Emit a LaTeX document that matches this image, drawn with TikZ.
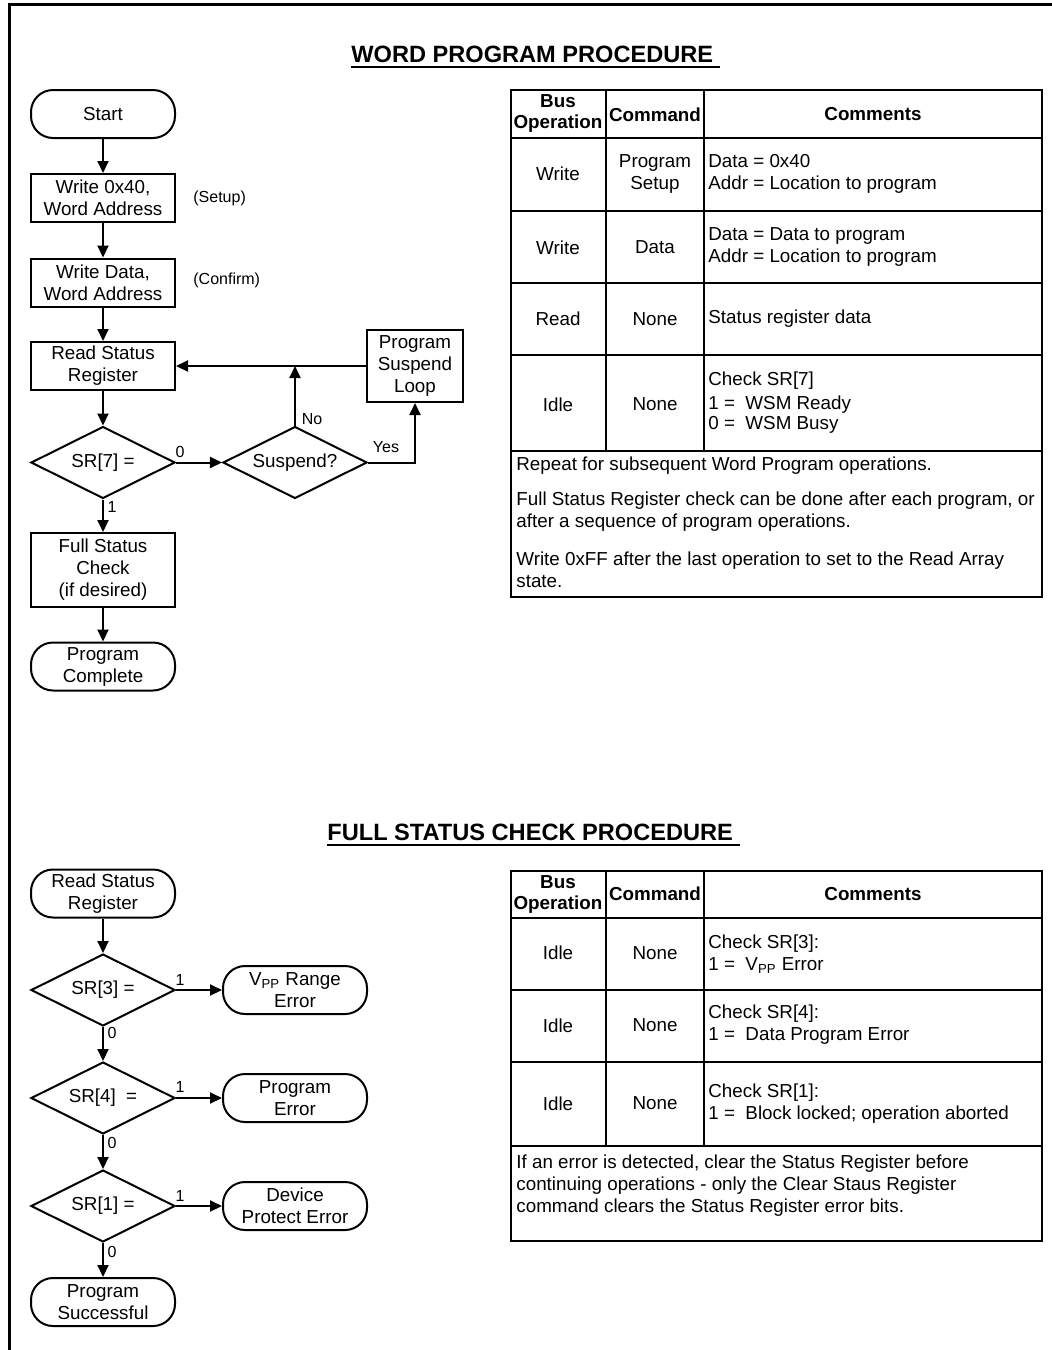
\documentclass[tikz,border=0pt]{standalone}
\usepackage{fontspec}
\setmainfont{Liberation Sans}
\usetikzlibrary{shapes.geometric,arrows.meta}
\newcommand\mainsz{\fontsize{9.4pt}{11pt}\selectfont}
\newcommand\lblsz{\fontsize{8pt}{9.5pt}\selectfont}
\newcommand\ttlsz{\fontsize{11.8pt}{14pt}\selectfont\bfseries}
\newcommand\hdrsz{\fontsize{9.4pt}{10.5pt}\selectfont\bfseries}
\begin{document}
\begin{tikzpicture}[x=0.5pt,y=-0.5pt,
  every node/.style={font=\mainsz},
  term/.style={draw, rounded corners=11pt, minimum width=72pt, minimum height=24pt, align=center, line width=1pt, inner sep=0pt},
  proc/.style={draw, rectangle, minimum width=72pt, minimum height=24pt, align=center, line width=1pt, inner sep=0pt},
  dec/.style={draw, diamond, aspect=2, minimum width=72pt, minimum height=36pt, inner sep=0pt, line width=1pt},
  flow/.style={-{Triangle[length=6pt,width=5.5pt]}, line width=1pt},
  lbl/.style={font=\lblsz, inner sep=0pt},
  tline/.style={line width=1pt},
  cell/.style={inner sep=0pt, align=center},
  cmt/.style={inner sep=0pt, align=left, anchor=west},
  hdr/.style={inner sep=0pt, align=center, font=\hdrsz},
  ttl/.style={font=\ttlsz, anchor=base west, inner sep=0pt}
]
\useasboundingbox (0,0) rectangle (1052,1350);
% page frame
\draw[line width=1.5pt] (1052,4) -- (9,4) -- (9,1350);

% ---------- titles ----------
\node[ttl] (t1) at (351,62.5) {WORD PROGRAM PROCEDURE\kern0.278em};
\draw[line width=1pt] ([yshift=-2pt]t1.base west) -- ([yshift=-2pt]t1.base east);
\node[ttl] (t2) at (327,840.5) {FULL STATUS CHECK PROCEDURE\kern0.278em};
\draw[line width=1pt] ([yshift=-2pt]t2.base west) -- ([yshift=-2pt]t2.base east);

% ---------- word program flowchart ----------
\node[term] (start) at (103,114) {Start};
\node[proc] (w40) at (103,198) {Write 0x40,\\Word Address};
\node[lbl, anchor=west] (setup) at (193,198) {(Setup)};
\node[proc] (wd) at (103,282.5) {Write Data,\\Word Address};
\node[lbl, anchor=west] (confirm) at (193,280) {(Confirm)};
\node[proc] (rsr) at (103,366) {Read Status\\Register};
\node[dec] (sr7) at (103,462.5) {SR[7] =};
\node[dec] (susp) at (295,462.5) {Suspend?};
\node[proc, minimum width=48pt, minimum height=36pt] (psl) at (415,366) {Program\\Suspend\\Loop};
\node[proc, minimum height=37pt] (fsc) at (103,570) {Full Status\\Check\\(if desired)};
\node[term] (pc) at (103,666.5) {Program\\Complete};

\draw[flow] (start) -- (w40);
\draw[flow] (w40) -- (wd);
\draw[flow] (wd) -- (rsr);
\draw[flow] (rsr) -- (sr7);
\draw[flow] (sr7) -- (susp);
\draw[flow] (sr7) -- (fsc);
\draw[flow] (fsc) -- (pc);
\draw[flow] (psl) -- (rsr);
\draw[flow] (susp.north) -- (susp.north |- rsr.east);
\draw[flow] (susp.east) -| (psl.south);

\node[lbl] (l0) at (180,452) {0};
\node[lbl] (l1) at (112,507) {1};
\node[lbl] (lno) at (312,419) {No};
\node[lbl] (lyes) at (386,447) {Yes};

% ---------- word program table ----------
\draw[tline] (511,90) rectangle (1042,597);
\foreach \yy in {138,211,283,355,451} \draw[tline] (511,\yy) -- (1042,\yy);
\draw[tline] (606,90) -- (606,451);
\draw[tline] (704,90) -- (704,451);

\node[hdr] (h1a) at (558,113) {Bus\\Operation};
\node[hdr] (h1b) at (655,114.5) {Command};
\node[hdr] (h1c) at (873,114.5) {Comments};

\node[cell] (a1) at (558,174) {Write};
\node[cell] (b1) at (655,173.5) {Program\\Setup};
\node[cmt] (c1) at (708,173.5) {Data = 0x40\\Addr = Location to program};

\node[cell] (a2) at (558,247.5) {Write};
\node[cell] (b2) at (655,247.5) {Data};
\node[cmt] (c2) at (708,247) {Data = Data to program\\Addr = Location to program};

\node[cell] (a3) at (558,319) {Read};
\node[cell] (b3) at (655,319) {None};
\node[cmt] (c3) at (708,319) {Status register data};

\node[cell] (a4) at (558,404.5) {Idle};
\node[cell] (b4) at (655,404.5) {None};
\node[cmt] (c4) at (708,402.5) {Check SR[7]\\[1pt]1 =\ \ WSM Ready\\[-1pt]0 =\ \ WSM Busy};

\node[cmt] (n1) at (516,465.5) {Repeat for subsequent Word Program operations.};
\node[cmt] (n2) at (516,511.5) {Full Status Register check can be done after each program, or\\after a sequence of program operations.};
\node[cmt] (n3) at (516,569.5) {Write 0xFF after the last operation to set to the Read Array\\state.};

% ---------- full status check flowchart ----------
\node[term] (rsr2) at (103,893.5) {Read Status\\Register};
\node[dec] (sr3) at (103,990) {SR[3] =};
\node[term] (vpp) at (295,990) {V\textsubscript{PP} Range\\Error};
\node[dec] (sr4) at (103,1098) {SR[4]\ \ =};
\node[term] (pe) at (295,1098) {Program\\Error};
\node[dec] (sr1) at (103,1206) {SR[1] =};
\node[term] (dpe) at (295,1206) {Device\\Protect Error};
\node[term] (ps) at (103,1302) {Program\\Successful};

\draw[flow] (rsr2) -- (sr3);
\draw[flow] (sr3) -- (vpp);
\draw[flow] (sr3) -- (sr4);
\draw[flow] (sr4) -- (pe);
\draw[flow] (sr4) -- (sr1);
\draw[flow] (sr1) -- (dpe);
\draw[flow] (sr1) -- (ps);

\node[lbl] (m1) at (180,980) {1};
\node[lbl] (m2) at (112,1033) {0};
\node[lbl] (m3) at (180,1087) {1};
\node[lbl] (m4) at (112,1143) {0};
\node[lbl] (m5) at (180,1196) {1};
\node[lbl] (m6) at (112,1252) {0};

% ---------- full status check table ----------
\draw[tline] (511,871) rectangle (1042,1241);
\foreach \yy in {918,990,1062,1146} \draw[tline] (511,\yy) -- (1042,\yy);
\draw[tline] (606,871) -- (606,1146);
\draw[tline] (704,871) -- (704,1146);

\node[hdr] (h2a) at (558,894) {Bus\\Operation};
\node[hdr] (h2b) at (655,894) {Command};
\node[hdr] (h2c) at (873,894) {Comments};

\node[cell] (d1) at (558,953) {Idle};
\node[cell] (e1) at (655,953) {None};
\node[cmt] (f1) at (708,954) {Check SR[3]:\\1 =\ \ V\textsubscript{PP} Error};

\node[cell] (d2) at (558,1025.5) {Idle};
\node[cell] (e2) at (655,1025.5) {None};
\node[cmt] (f2) at (708,1025) {Check SR[4]:\\1 =\ \ Data Program Error};

\node[cell] (d3) at (558,1103.5) {Idle};
\node[cell] (e3) at (655,1103.5) {None};
\node[cmt] (f3) at (708,1103.5) {Check SR[1]:\\1 =\ \ Block locked; operation aborted};

\node[cmt] (g1) at (516,1185.5) {If an error is detected, clear the Status Register before\\continuing operations - only the Clear Staus Register\\command clears the Status Register error bits.};
\end{tikzpicture}
\end{document}
